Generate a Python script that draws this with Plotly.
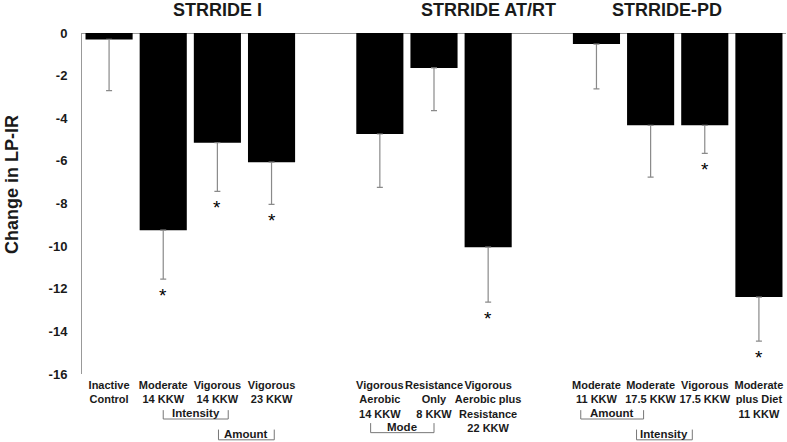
import plotly.graph_objects as go

# ---- data ----
study_names = ["STRRIDE I", "STRRIDE AT/RT", "STRRIDE-PD"]
study_groups = [
    ["Inactive<br>Control", "Moderate<br>14 KKW", "Vigorous<br>14 KKW", "Vigorous<br>23 KKW"],
    ["Vigorous<br>Aerobic<br>14 KKW", "Resistance<br>Only<br>8 KKW", "Vigorous<br>Aerobic plus<br>Resistance<br>22 KKW"],
    ["Moderate<br>11 KKW", "Moderate<br>17.5 KKW", "Vigorous<br>17.5 KKW", "Moderate<br>plus Diet<br>11 KKW"],
]
study_values = [
    [-0.3, -9.25, -5.15, -6.06],
    [-4.74, -1.64, -10.05],
    [-0.52, -4.33, -4.33, -12.39],
]
study_errors = [
    [2.4, 2.3, 2.28, 1.98],
    [2.5, 2.0, 2.58],
    [2.1, 2.43, 1.32, 2.07],
]
study_signif = [
    [False, True, True, True],
    [False, False, True],
    [False, False, True, True],
]
y_ticks = [0, -2, -4, -6, -8, -10, -12, -14, -16]

# comparison brackets: (label, x start, x end, row)
bracket_labels = ["Intensity", "Amount", "Mode", "Amount", "Intensity"]
bracket_x0 = [1.0, 2.02, 4.83, 8.71, 9.74]
bracket_x1 = [2.2, 3.05, 6.0, 9.87, 10.77]
bracket_row = [0, 2, 1, 0, 2]

# ---- build positions: one empty slot between studies ----
xs, labels, vals, errs, sig = [], [], [], [], []
pos = 0
for g, cats in enumerate(study_groups):
    if g > 0:
        pos += 1
    for i, c in enumerate(cats):
        xs.append(pos)
        labels.append(c)
        vals.append(study_values[g][i])
        errs.append(study_errors[g][i])
        sig.append(study_signif[g][i])
        pos += 1
last_x = xs[-1]

fig = go.Figure()
fig.add_trace(go.Bar(
    x=xs, y=vals, width=0.87,
    marker=dict(color="black", line=dict(width=0)),
    error_y=dict(type="data", symmetric=False,
                 array=[0] * len(errs), arrayminus=errs,
                 color="#8a8a8a", thickness=1.2, width=3),
    showlegend=False, hoverinfo="skip",
))

# significance stars
for x, v, e, s in zip(xs, vals, errs, sig):
    if s:
        fig.add_annotation(x=x, y=v - e, text="*", showarrow=False, xref="x", yref="y",
                           yanchor="top", yshift=-4,
                           font=dict(family="Liberation Sans", size=19, color="black"))

# study titles
title_pos = [2.0, 7.0, 10.3]
for name, tx in zip(study_names, title_pos):
    fig.add_annotation(x=tx, y=1.0, yref="paper", xref="x", text=f"<b>{name}</b>",
                       showarrow=False, yanchor="middle", yshift=23,
                       font=dict(family="Liberation Sans", size=18, color="#1a1a1a"))

# y-axis title (placed slightly above the plot centre, as in the source)
fig.add_annotation(x=0, y=0.554, xref="paper", yref="paper", xshift=-70,
                   text="<b>Change in LP-IR</b>", textangle=-90, showarrow=False,
                   xanchor="center", yanchor="middle",
                   font=dict(family="Liberation Sans", size=18, color="#1a1a1a"))

# brackets (paper y; plot area spans 341 px)
row_bottom = [-0.132, -0.172, -0.193]
row_top = [-0.106, -0.144, -0.163]
for lab, a, b, r in zip(bracket_labels, bracket_x0, bracket_x1, bracket_row):
    yb, yt = row_bottom[r], row_top[r]
    fig.add_shape(type="path", xref="x", yref="paper",
                  path=f"M {a},{yt} L {a},{yb} L {b},{yb} L {b},{yt}",
                  line=dict(color="#777777", width=1))
    fig.add_annotation(x=(a + b) / 2, y=yb, xref="x", yref="paper",
                       text=f"<b>{lab}</b>", showarrow=False, yanchor="bottom",
                       yshift=-2,
                       font=dict(family="Liberation Sans", size=11.5, color="#1a1a1a"))

fig.update_layout(
    width=787, height=442,
    margin=dict(l=82, r=1, t=33, b=68),
    paper_bgcolor="white", plot_bgcolor="white",
    font=dict(family="Liberation Sans", color="#1a1a1a"),
    bargap=0.13,
)
fig.update_xaxes(
    range=[-0.5, last_x + 0.5], tickvals=xs,
    ticktext=[f"<b>{t}</b>" for t in labels],
    tickangle=0, automargin=False,
    tickfont=dict(family="Liberation Sans", size=11, color="#1a1a1a"),
    showline=False, showgrid=False, zeroline=False, ticks="",
    ticklabelstandoff=3,
)
fig.update_yaxes(
    range=[-16, 0], tickvals=y_ticks, ticktext=[f"<b>{v}</b>" for v in y_ticks],
    tickfont=dict(family="Liberation Sans", size=13, color="#1a1a1a"),
    showline=True, linecolor="#999999", linewidth=1, mirror=False,
    showgrid=False, zeroline=True, zerolinecolor="#999999", zerolinewidth=1,
    ticks="", ticklabelstandoff=11, automargin=False,
)

fig.write_html("out.html", config={"displayModeBar": False},
               post_script="document.body.style.margin='0';")
